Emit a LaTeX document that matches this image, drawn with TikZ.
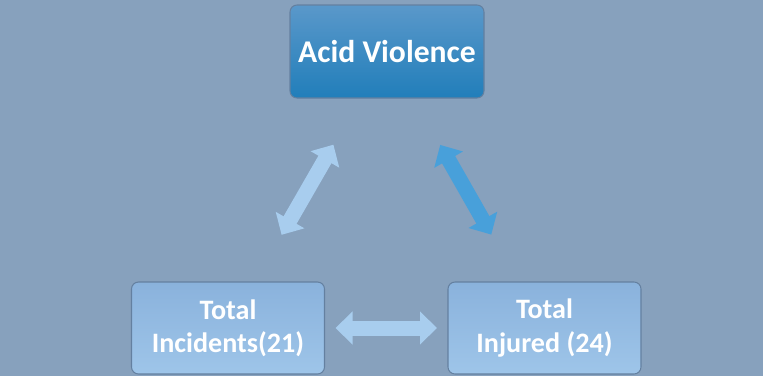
\documentclass[tikz,border=0pt]{standalone}
\usepackage{fontspec}
\setmainfont{Carlito}
\usetikzlibrary{arrows.meta}
\definecolor{backdrop}{RGB}{135,161,189}
\definecolor{boxedge}{RGB}{100,128,160}
\definecolor{deeptop}{RGB}{90,152,202}
\definecolor{deepbottom}{RGB}{33,126,186}
\definecolor{paletop}{RGB}{138,178,220}
\definecolor{palebottom}{RGB}{158,197,233}
\definecolor{palelink}{RGB}{168,205,238}
\definecolor{midlink}{RGB}{72,160,218}
\begin{document}
\begin{tikzpicture}[
        topbox/.style={draw=boxedge,line width=0.6pt,rounded corners=4pt,top color=deeptop,bottom color=deepbottom,minimum width=3.88cm,minimum height=1.86cm,text=white,font=\bfseries\fontsize{18}{21}\selectfont},
        countbox/.style={draw=boxedge,line width=0.6pt,rounded corners=4pt,top color=paletop,bottom color=palebottom,minimum width=3.86cm,minimum height=1.84cm,text=white,align=center,font=\bfseries\fontsize{16}{19}\selectfont},
        link/.style={{Triangle[length=0.34cm,width=0.64cm]}-{Triangle[length=0.34cm,width=0.64cm]},line width=0.3cm,shorten >=2.15cm,shorten <=2.15cm}
    ]
    \fill[backdrop] (0,0) rectangle (15.26,7.52);
    \useasboundingbox (0,0) rectangle (15.26,7.52);
    %% boxes
    \node[topbox] (acid) at (7.74,6.49) {Acid Violence};
    \node[countbox] (incidents) at (4.56,0.96) {Total\\Incidents(21)};
    \node[countbox] (injured) at (10.89,0.96) {Total\\Injured (24)};
    %% links
    \draw[link,palelink] (acid.center) -- (incidents.center);
    \draw[link,midlink] (acid.center) -- (injured.center);
    \draw[link,palelink] (incidents.center) -- (injured.center);
\end{tikzpicture}
\end{document}
